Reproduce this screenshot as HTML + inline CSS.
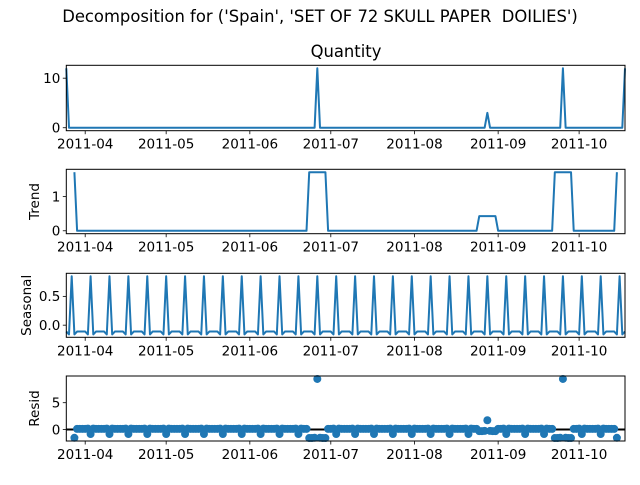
<!DOCTYPE html>
<html><head><meta charset="utf-8"><style>
body{margin:0;background:#fff}
svg text{font-family:"DejaVu Sans","Liberation Sans",sans-serif;fill:#000}
</style></head><body>
<svg id="fig" width="640" height="480" viewBox="0 0 640 480" xmlns="http://www.w3.org/2000/svg">
<rect width="640" height="480" fill="#fff"/>
<text x="320" y="22" font-size="16.4" text-anchor="middle" xml:space="preserve" style="white-space:pre">Decomposition for ('Spain', 'SET OF 72 SKULL PAPER  DOILIES')</text>
<text x="346" y="57" font-size="16.4" text-anchor="middle">Quantity</text>
</svg>
<script>
// data: daily observations, day 0 = 2011-03-25
const nDays = 208;
const spikeDays = [0, 93, 156, 184, 207];
const spikeValues = [12, 12, 3, 12, 12];
const seasonalPattern = [-0.11, -0.16, 0.85, -0.16, -0.11, -0.11, -0.11];
const monthLabels = ["2011-04","2011-05","2011-06","2011-07","2011-08","2011-09","2011-10"];
const monthDays = [7, 37, 68, 98, 129, 160, 190];
const qTicks = [0, 10];
const trendTicks = [0, 1];
const seasonalTicks = [0.0, 0.5];
const seasonalTickLabels = ["0.0", "0.5"];
const residTicks = [0, 5];

const NS = "http://www.w3.org/2000/svg";
const svg = document.getElementById("fig");
const X0 = 66.3, X1 = 625;
const xs = d => X0 + d * (X1 - X0) / (nDays - 1);

const quantity = new Array(nDays).fill(0);
spikeDays.forEach((d, k) => { quantity[d] = spikeValues[k]; });
const trend = quantity.map((v, i) => {
  if (i < 3 || i > nDays - 4) return null;
  let s = 0; for (let j = i - 3; j <= i + 3; j++) s += quantity[j]; return s / 7;
});
const seasonal = quantity.map((v, i) => seasonalPattern[i % 7]);
const resid = quantity.map((v, i) => trend[i] === null ? null : v - trend[i] - seasonal[i]);

function mk(tag, attrs, parent) {
  const e = document.createElementNS(NS, tag);
  for (const k in attrs) e.setAttribute(k, attrs[k]);
  (parent || svg).appendChild(e);
  return e;
}

function panel(name, top, bottom, values, ticks, tickLabels, ylabel, ylabelX, dots) {
  const vals = values.filter(v => v !== null);
  let mn = Math.min(...vals), mx = Math.max(...vals);
  const m = (mx - mn) * 0.05; mn -= m; mx += m;
  const ys = v => bottom - (v - mn) / (mx - mn) * (bottom - top);
  const g = mk("g", {});
  
  
  if (dots) {
    const z = mk("line", {x1: X0, x2: X1, y1: ys(0), y2: ys(0), stroke: "#000", "stroke-width": 2}, g);
    
    
    values.forEach((v, i) => {
      if (v === null) return;
      const c = mk("circle", {cx: xs(i), cy: ys(v), r: 4, fill: "#1f77b4"}, g);
      
      
    });
  } else {
    let d = "";
    let started = false;
    values.forEach((v, i) => {
      if (v === null) { started = false; return; }
      d += (started ? "L" : "M") + xs(i).toFixed(2) + "," + ys(v).toFixed(2);
      started = true;
    });
    const p = mk("path", {d: d, fill: "none", stroke: "#1f77b4", "stroke-width": 2, "stroke-linejoin": "round"}, g);
    
    
  }
  const fr = mk("rect", {x: X0, y: top, width: X1 - X0, height: bottom - top, fill: "none", stroke: "#000", "stroke-width": 1}, g);
  
  
  ticks.forEach((t, k) => {
    const y = ys(t);
    mk("line", {x1: X0 - 3.5, x2: X0, y1: y, y2: y, stroke: "#000", "stroke-width": 0.8}, g);
    const tx = mk("text", {x: X0 - 6, y: y + 4.8, "font-size": 13.5, "text-anchor": "end"}, g);
    tx.textContent = tickLabels[k];
    
    
  });
  monthDays.forEach((d, k) => {
    const x = xs(d);
    mk("line", {x1: x, x2: x, y1: bottom, y2: bottom + 3.5, stroke: "#000", "stroke-width": 0.8}, g);
    const tx = mk("text", {x: x, y: bottom + 18, "font-size": 13.5, "text-anchor": "middle"}, g);
    tx.textContent = monthLabels[k];
    
    
  });
  if (ylabel) {
    const cy = (top + bottom) / 2;
    const yl = mk("text", {x: ylabelX, y: cy, "font-size": 13.5, "text-anchor": "middle", transform: "rotate(-90 " + ylabelX + " " + cy + ")"}, g);
    yl.textContent = ylabel;
    
    
  }
}

panel("quantity", 65.3, 130.7, quantity, qTicks, qTicks.map(String), null, 0, false);
panel("trend", 169.3, 233.7, trend, trendTicks, trendTicks.map(String), "Trend", 39, false);
panel("seasonal", 273.3, 337.3, seasonal, seasonalTicks, seasonalTickLabels, "Seasonal", 31, false);
panel("resid", 376, 441, resid, residTicks, residTicks.map(String), "Resid", 39, true);
</script>
</body></html>
